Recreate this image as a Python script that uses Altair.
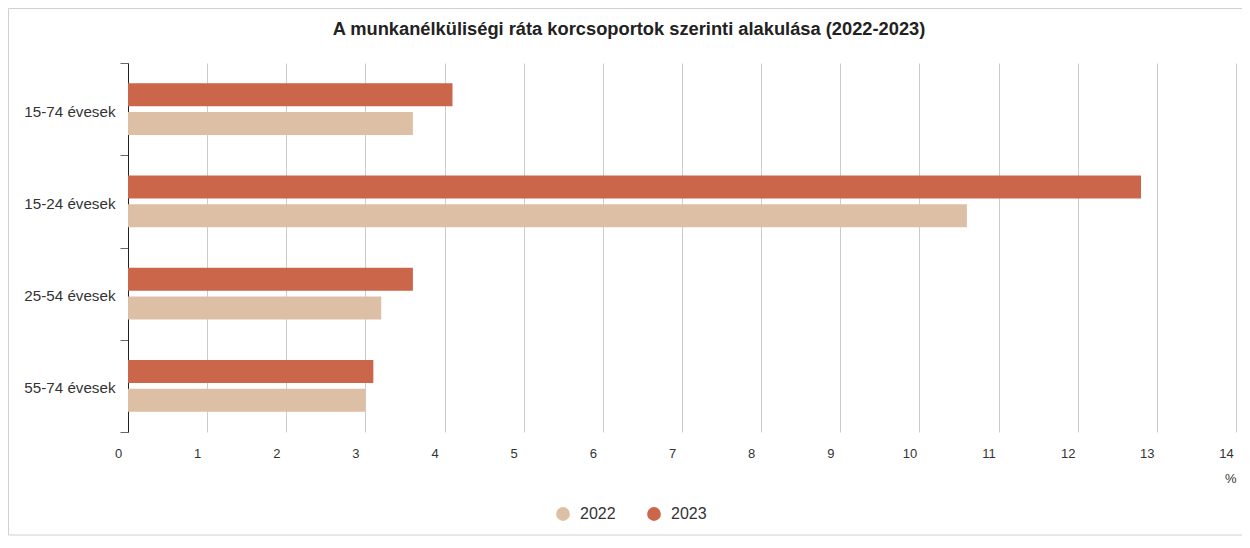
import altair as alt
import pandas as pd

title_text = "A munkanélküliségi ráta korcsoportok szerinti alakulása (2022-2023)"
categories = ["15-74 évesek", "15-24 évesek", "25-54 évesek", "55-74 évesek"]
years = ["2022", "2023"]
values_2022 = [3.6, 10.6, 3.2, 3.0]
values_2023 = [4.1, 12.8, 3.6, 3.1]
x_ticks = list(range(0, 15))
colors = ["#DDBFA5", "#CB664B"]

rows = []
for c, v in zip(categories, values_2022):
    rows.append({"korcsoport": c, "ev": "2022", "ertek": v})
for c, v in zip(categories, values_2023):
    rows.append({"korcsoport": c, "ev": "2023", "ertek": v})
df = pd.DataFrame(rows)

W, H = 1108, 369

bars = alt.Chart(df).mark_bar().encode(
    x=alt.X(
        "ertek:Q",
        scale=alt.Scale(domain=[0, 14], nice=False),
        axis=alt.Axis(
            values=x_ticks,
            title="%",
            titleAnchor="end",
            titleAlign="right",
            titleFontWeight="normal",
            titleFontSize=13,
            titleColor="#333",
            titlePadding=12,
            grid=True,
            gridColor="#cccccc",
            domain=False,
            ticks=False,
            labelFlush=False,
            labelOffset=-10,
            labelPadding=15,
            labelFontSize=13,
            labelColor="#333",
        ),
    ),
    y=alt.Y(
        "korcsoport:N",
        sort=categories,
        scale=alt.Scale(paddingInner=0, paddingOuter=0),
        axis=alt.Axis(
            title=None,
            tickBand="extent",
            tickSize=8,
            tickColor="#666",
            domainColor="#222",
            labelPadding=5,
            labelOffset=2,
            labelFontSize=15.2,
            labelColor="#333",
            grid=False,
        ),
    ),
    yOffset=alt.YOffset(
        "ev:N", sort=["2023", "2022"], scale=alt.Scale(paddingInner=0.2, paddingOuter=0.697)
    ),
    color=alt.Color(
        "ev:N",
        scale=alt.Scale(domain=years, range=colors),
        legend=alt.Legend(
            title=None,
            orient="none",
            legendX=427,
            legendY=443,
            direction="horizontal",
            symbolType="circle",
            symbolSize=190,
            labelFontSize=16,
            labelColor="#333",
            columnPadding=30,
            labelOffset=9,
        ),
    ),
)

single = pd.DataFrame({"t": [title_text]})

frame = alt.Chart(single).mark_rect(fillOpacity=0, stroke="#d0d0d0", strokeWidth=1).encode(
    x=alt.value(-119.5),
    x2=alt.value(W + 7.5),
    y=alt.value(-54.5),
    y2=alt.value(H + 103),
)

title = alt.Chart(single).mark_text(
    fontSize=18.3, fontWeight="bold", color="#222", align="center", baseline="middle"
).encode(
    text="t:N",
    x=alt.value(501),
    y=alt.value(-33),
)

chart = alt.layer(frame, title, bars).properties(
    width=W,
    height=H,
    padding={"left": 120, "top": 55, "right": 6, "bottom": 105},
    autosize="none",
).configure(font="Liberation Sans").configure_view(stroke=None)

chart.save("out.html", embed_options={"renderer": "svg", "actions": False})
